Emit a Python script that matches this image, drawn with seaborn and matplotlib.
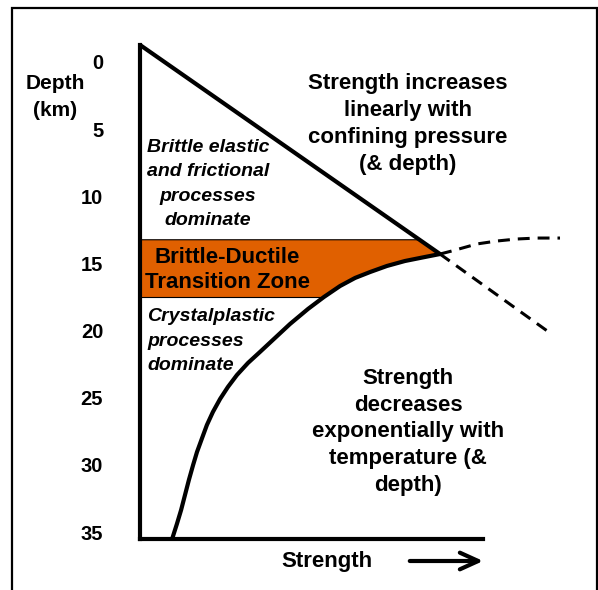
import numpy as np
import matplotlib
matplotlib.use("Agg")
import matplotlib.pyplot as plt
import seaborn as sns

# Brittle-ductile transition strength profile (schematic)
sns.set_theme(style="white")
plt.rcParams['font.family'] = ['Liberation Sans', 'DejaVu Sans']

# strength in arbitrary units, depth in km
depth_ticks = [0, 5, 10, 15, 20, 25, 30, 35]

# linear (frictional) strength line, surface to the transition point
linear_strength = [0, 100]
linear_depth = [-1.27, 14.3]

# exponential (crystal plastic) strength curve, transition point down to the base
plastic_strength = [100, 95.0, 88.3, 82.3, 76.7, 71.7, 66.7, 61.3, 56.0, 50.0, 45.0,
                    40.0, 36.0, 32.3, 29.3, 26.7, 24.3, 22.3, 20.7, 19.0, 17.7,
                    16.3, 15.0, 13.7, 12.3, 10.7]
plastic_depth = [14.3, 14.52, 14.82, 15.19, 15.64, 16.08, 16.68, 17.5, 18.39, 19.51, 20.55,
                 21.59, 22.41, 23.31, 24.2, 25.09, 26.06, 27.03, 28.0, 29.04, 30.01,
                 31.12, 32.24, 33.36, 34.4, 35.52]

# dashed continuations past the transition point
upper_dash_strength = [100, 104, 112.3, 119, 125.7, 132.3, 140]
upper_dash_depth = [14.3, 14.07, 13.55, 13.33, 13.18, 13.11, 13.11]
lower_dash_strength = [100, 136.7]
lower_dash_depth = [14.3, 20.18]

# brittle-ductile transition zone
zone_top = 13.2
zone_bottom = 17.5

W, H = 598, 590
fig = plt.figure(figsize=(W / 100, H / 100), dpi=100)
ax = fig.add_axes([140 / W, 1 - 539 / H, (597 - 140) / W, (539 - 8) / H])
ax.set_xlim(0, 152.33)
ax.set_ylim(35.52, -4.02)


def fx(x):
    return x / W


def fy(y):
    return 1 - y / H


# orange transition zone, bounded by the line above and the curve below the apex
zd = np.linspace(zone_top, zone_bottom, 300)
edge = np.where(zd < linear_depth[1],
                np.interp(zd, linear_depth, linear_strength),
                np.interp(zd, plastic_depth, plastic_strength))
ax.fill_betweenx(zd, 0, edge, facecolor='#E06000', edgecolor='black', linewidth=0.8, zorder=1)

sns.lineplot(x=linear_strength, y=linear_depth, sort=False, estimator=None,
             color='black', linewidth=3, ax=ax, zorder=3)
sns.lineplot(x=plastic_strength, y=plastic_depth, sort=False, estimator=None,
             color='black', linewidth=3, ax=ax, zorder=3)
for ln in ax.lines:
    ln.set_solid_joinstyle('round')
for xs, ys in [(upper_dash_strength, upper_dash_depth), (lower_dash_strength, lower_dash_depth)]:
    ln = sns.lineplot(x=xs, y=ys, sort=False, estimator=None, color='black',
                      linewidth=2.2, ax=ax, zorder=3).lines[-1]
    ln.set_dashes((3.9, 2.6))
    ln.set_clip_on(False)

# axes: only the left and bottom lines
for s in ['top', 'right']:
    ax.spines[s].set_visible(False)
for s in ['left', 'bottom']:
    ax.spines[s].set_linewidth(3)
    ax.spines[s].set_color('black')
    ax.spines[s].set_capstyle('projecting')
ax.spines['left'].set_bounds(35.52, -1.27)
ax.spines['bottom'].set_bounds(0, 114.3)
ax.set_xticks([])
ax.set_yticks(depth_ticks)
ax.set_yticklabels([str(t) for t in depth_ticks], fontsize=14.5, fontweight='bold', color='black')
ax.tick_params(axis='y', length=0, pad=26.5)

bold = dict(fontweight='bold', color='black', ha='center', va='center')
fig.text(fx(55), fy(97), "Depth\n(km)", fontsize=15, linespacing=1.52, **bold)
fig.text(fx(208), fy(184), "Brittle elastic\nand frictional\nprocesses\ndominate",
         fontsize=14, style='italic', linespacing=1.56, **bold)
fig.text(fx(227), fy(270), "Brittle-Ductile\nTransition Zone", fontsize=16, linespacing=1.3, **bold)
fig.text(fx(147), fy(341), "Crystalplastic\nprocesses\ndominate", fontsize=14, color='black',
         style='italic', fontweight='bold', ha='left', va='center', linespacing=1.56)
fig.text(fx(408), fy(124), "Strength increases\nlinearly with\nconfining pressure\n(& depth)",
         fontsize=16, linespacing=1.36, **bold)
fig.text(fx(408), fy(432), "Strength\ndecreases\nexponentially with\ntemperature (&\ndepth)",
         fontsize=16, linespacing=1.36, **bold)
fig.text(fx(327), fy(562), "Strength", fontsize=16, **bold)

# arrow pointing to increasing strength
ax.annotate("", xy=(fx(486), fy(561)), xytext=(fx(407), fy(561)),
            xycoords='figure fraction', textcoords='figure fraction',
            arrowprops=dict(arrowstyle='->,head_length=1.1,head_width=0.5', lw=3, color='black'))

# outer frame (bottom edge falls outside the picture)
fig.add_artist(plt.Rectangle((fx(12), -0.05), fx(597) - fx(12), fy(8) + 0.05,
                             transform=fig.transFigure, fill=False, lw=1.6, edgecolor='black'))

fig.savefig("out.png", dpi=100, facecolor='white')
